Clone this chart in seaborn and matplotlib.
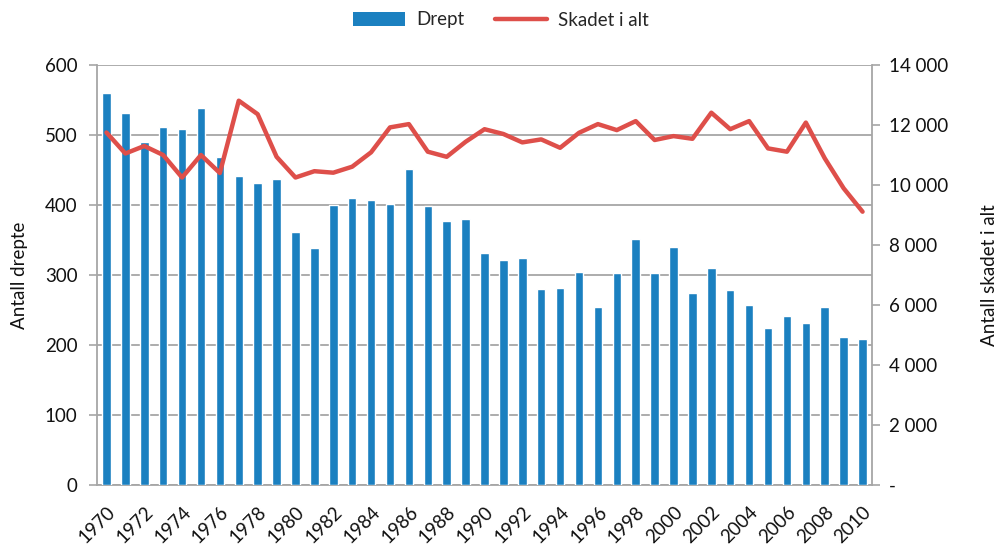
import numpy as np
import pandas as pd
import matplotlib
matplotlib.use("Agg")
import matplotlib.pyplot as plt
import matplotlib.transforms as mtransforms
import seaborn as sns
from matplotlib.patches import Patch
from matplotlib.lines import Line2D
from matplotlib.ticker import FuncFormatter, MultipleLocator, FixedLocator

years = list(range(1970, 2011))
drept = [560, 532, 490, 511, 509, 539, 469, 442, 432, 437,
         361, 338, 400, 410, 407, 402, 451, 398, 377, 380,
         331, 321, 324, 280, 282, 305, 255, 303, 351, 303,
         340, 275, 310, 279, 257, 225, 241, 231, 255, 211, 208]
skadet = [11750, 11050, 11300, 11000, 10250, 11000, 10400, 12810, 12360, 10940,
          10250, 10460, 10410, 10610, 11090, 11920, 12030, 11110, 10940, 11440,
          11860, 11700, 11420, 11520, 11240, 11740, 12030, 11830, 12130, 11500,
          11630, 11540, 12410, 11860, 12130, 11220, 11110, 12080, 10890, 9890, 9110]

df = pd.DataFrame({"year": years, "Drept": drept, "Skadet i alt": skadet})

sns.set_theme(style="white")
plt.rcParams['font.family'] = ['Lato', 'DejaVu Sans']

BLUE = "#1B80C0"
RED = "#DE4F4A"
GRID = "#A6A6A6"
FS = 13.5
TXT = "#111111"

fig = plt.figure(figsize=(10.02, 5.52), dpi=100)
ax = fig.add_axes([97/1002, 1-485/552, (872-97)/1002, (485-65)/552])

sns.barplot(data=df, x="year", y="Drept", native_scale=True, color=BLUE,
            width=0.45, saturation=1, ax=ax, zorder=3)
ax.set_xlim(1969.5, 2010.5)
ax.set_ylim(0, 600)
ax.yaxis.set_major_locator(MultipleLocator(100))
ax.grid(axis="y", color=GRID, linewidth=1.3, zorder=0)
ax.set_axisbelow(True)
for s in ["top", "right"]:
    ax.spines[s].set_visible(False)
for s in ["left", "bottom"]:
    ax.spines[s].set_color(GRID)
    ax.spines[s].set_linewidth(1.3)

ax.set_xticks(years[::2])
ax.set_xticklabels([str(y) for y in years[::2]], rotation=45, ha="right",
                   rotation_mode="anchor", fontsize=FS, color=TXT)
offset = mtransforms.ScaledTranslation(6/100, 0, fig.dpi_scale_trans)
for lbl in ax.get_xticklabels():
    lbl.set_transform(lbl.get_transform() + offset)
ax.xaxis.set_minor_locator(FixedLocator(np.arange(1969.5, 2011, 1.0)))
ax.tick_params(axis="x", which="major", length=0, pad=13)
ax.tick_params(axis="x", which="minor", length=6, color=GRID, width=1.2)
ax.tick_params(axis="y", which="major", length=6, color=GRID, width=1.2,
               labelsize=FS, labelcolor=TXT, pad=8)
ax.set_xlabel("")
ax.set_ylabel("Antall drepte", fontsize=FS, color=TXT, labelpad=12)

ax2 = ax.twinx()
sns.lineplot(data=df, x="year", y="Skadet i alt", color=RED, linewidth=3.2,
             ax=ax2, zorder=4)
ax2.set_ylim(0, 14000)
ax2.yaxis.set_major_locator(MultipleLocator(2000))
ax2.yaxis.set_major_formatter(FuncFormatter(
    lambda v, p: "-" if v == 0 else f"{int(v):,}".replace(",", " ")))
for s in ["top", "left", "bottom"]:
    ax2.spines[s].set_visible(False)
ax2.spines["right"].set_color(GRID)
ax2.spines["right"].set_linewidth(1.3)
ax2.tick_params(axis="y", length=6, color=GRID, width=1.2, labelsize=FS,
                labelcolor=TXT, pad=6)
ax2.set_xlim(1969.5, 2010.5)
ax2.set_xlabel("")
ax2.set_ylabel("Antall skadet i alt", fontsize=FS, color=TXT,
               rotation=90, labelpad=24)
ax2.grid(False)

handles = [Patch(facecolor=BLUE, edgecolor="none"),
           Line2D([0], [0], color=RED, linewidth=3.2)]
fig.legend(handles, ["Drept", "Skadet i alt"], loc="center",
           bbox_to_anchor=(0.5, 1-20/552), ncol=2, frameon=False,
           fontsize=FS, handlelength=2.8, handleheight=0.8, columnspacing=1.6,
           handletextpad=0.6)
if ax2.get_legend():
    ax2.get_legend().remove()

fig.savefig("out.png", dpi=100)
